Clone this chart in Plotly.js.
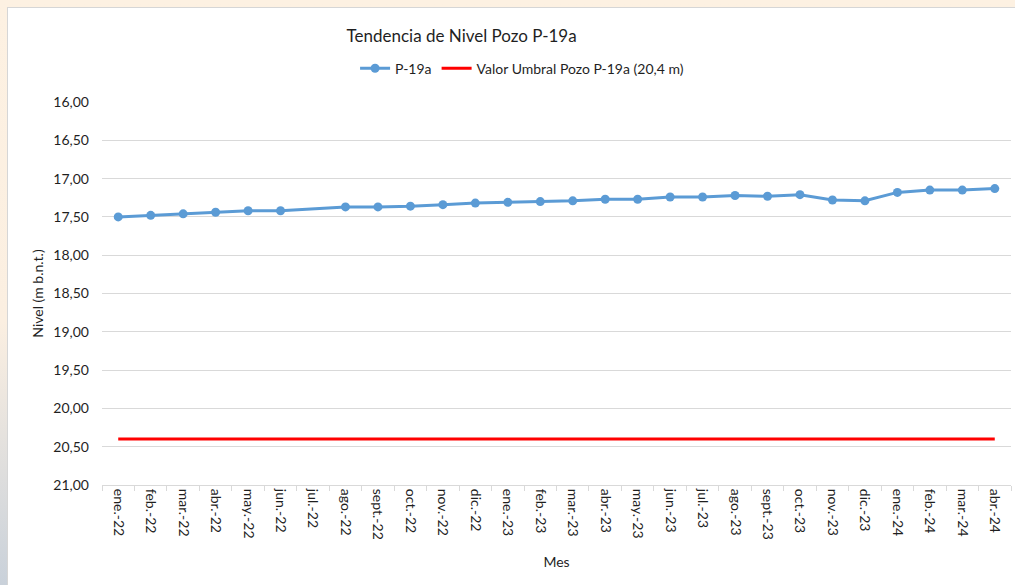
<!DOCTYPE html>
<html>
<head>
<meta charset="utf-8">
<script src="https://cdn.plot.ly/plotly-3.0.1.min.js"></script>
<style>
  html, body { margin: 0; padding: 0; width: 1015px; height: 585px; overflow: hidden; }
  body { background: linear-gradient(to bottom, #fdf1e2 0%, #fbefe1 55%, #c9d1da 100%); position: relative; }
  #chart { position: absolute; left: 7px; top: 7px; width: 1008px; height: 578px; background: #ffffff;
           border-left: 1px solid #d6d6d6; border-top: 1px solid #d6d6d6; box-sizing: border-box; }
</style>
</head>
<body>
<div id="chart"></div>
<script>
const months = ["ene.-22","feb.-22","mar.-22","abr.-22","may.-22","jun.-22","jul.-22","ago.-22","sept.-22","oct.-22","nov.-22","dic.-22",
                "ene.-23","feb.-23","mar.-23","abr.-23","may.-23","jun.-23","jul.-23","ago.-23","sept.-23","oct.-23","nov.-23","dic.-23",
                "ene.-24","feb.-24","mar.-24","abr.-24"];
const nivelP19a = [17.50,17.48,17.46,17.44,17.42,17.42,null,17.37,17.37,17.36,17.34,17.32,
                   17.31,17.30,17.29,17.27,17.27,17.24,17.24,17.22,17.23,17.21,17.28,17.29,
                   17.18,17.15,17.15,17.13];
const umbralX = ["ene.-22","abr.-24"];
const umbralY = [20.4, 20.4];
const yTicks = [16,16.5,17,17.5,18,18.5,19,19.5,20,20.5,21];

const FONT = "Lato, 'Open Sans', sans-serif";
const TXT = "#1f1f1f";

const traces = [
  {
    x: months, y: nivelP19a, type: "scatter", mode: "lines+markers", name: "P-19a",
    connectgaps: true,
    line: {color: "#5b9bd5", width: 3},
    marker: {color: "#5b9bd5", size: 9}
  },
  {
    x: umbralX, y: umbralY, type: "scatter", mode: "lines", name: "Valor Umbral Pozo P-19a (20,4 m)",
    line: {color: "#ff0000", width: 3}
  }
];

const layout = {
  width: 1008, height: 578,
  paper_bgcolor: "rgba(0,0,0,0)", plot_bgcolor: "#ffffff",
  margin: {l: 94, r: 5, t: 94, b: 101},
  separators: ",.",
  font: {family: FONT, size: 14, color: TXT},
  title: {text: "Tendencia de Nivel Pozo P-19a", font: {family: FONT, size: 17, color: TXT},
          xref: "container", x: 0.45, xanchor: "center", yref: "container", y: 0.951, yanchor: "middle"},
  showlegend: true,
  legend: {orientation: "h", xref: "container", x: 0.51, xanchor: "center", yref: "container", y: 0.895, yanchor: "middle",
           font: {family: FONT, size: 14, color: TXT}, itemwidth: 30, traceorder: "normal"},
  xaxis: {
    type: "category", categoryorder: "array", categoryarray: months,
    tickson: "boundaries", ticks: "outside", ticklen: 5, tickcolor: "#d9d9d9",
    tickangle: 90, showgrid: false, showline: true, linecolor: "#d9d9d9", linewidth: 1,
    tickfont: {family: FONT, size: 14, color: TXT},
    title: {text: "Mes", font: {family: FONT, size: 14, color: TXT}, standoff: 18},
    range: [-0.5, months.length - 0.5], zeroline: false
  },
  yaxis: {
    range: [21, 16], tickvals: yTicks, tickformat: ".2f",
    showgrid: true, gridcolor: "#d9d9d9", gridwidth: 1, zeroline: false,
    ticks: "", ticklabelstandoff: 12,
    tickfont: {family: FONT, size: 14, color: TXT},
    title: {text: "Nivel (m b.n.t.)", font: {family: FONT, size: 14, color: TXT}, standoff: 6}
  }
};

Plotly.newPlot("chart", traces, layout, {displayModeBar: false, staticPlot: true});
</script>
</body>
</html>
